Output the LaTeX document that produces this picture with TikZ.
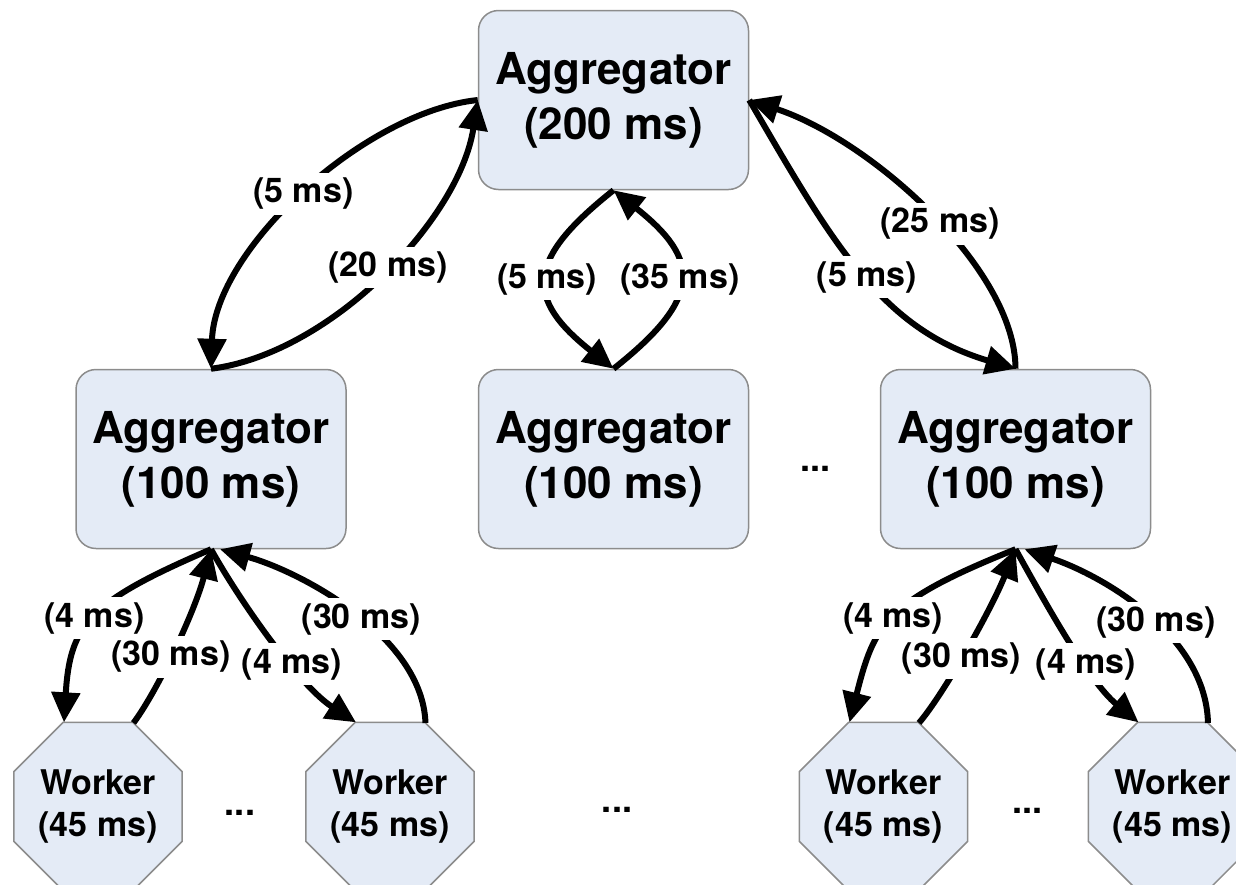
\documentclass[tikz,border=0pt]{standalone}
\usepackage{fontspec}
\setmainfont{TeX Gyre Heros}
\usetikzlibrary{arrows.meta,shapes.geometric,calc}
\definecolor{boxfill}{HTML}{E4EBF6}
\definecolor{boxline}{HTML}{8C8C8C}
\begin{document}
\begin{tikzpicture}[x=1pt,y=-1pt,
  agg/.style={draw=boxline, line width=1.5pt, fill=boxfill, rounded corners=20pt,
    minimum width=270pt, minimum height=179pt, align=center, inner sep=0pt,
    font=\fontsize{44}{55}\selectfont\bfseries},
  worker/.style={draw=boxline, line width=1.5pt, fill=boxfill, regular polygon,
    regular polygon sides=8, minimum size=173pt, inner sep=0pt, outer sep=0pt,
    align=center, font=\fontsize{34}{42}\selectfont\bfseries},
  conn/.style={line width=6pt, -{Triangle[length=30pt,width=28pt]}},
  lbl/.style={fill=white, inner sep=5pt, font=\fontsize{34}{40}\selectfont\bfseries},
  dots/.style={inner sep=0pt, font=\fontsize{36}{40}\selectfont\bfseries}]
\useasboundingbox (0,0) rectangle (1236,884);
\clip (0,0) rectangle (1236,884);

% nodes
\node[agg] (top) at (613.5,100) {Aggregator\\(200 ms)};
\node[agg] (la) at (211,459) {Aggregator\\(100 ms)};
\node[agg] (ma) at (613.5,459) {Aggregator\\(100 ms)};
\node[agg] (ra) at (1015.5,459) {Aggregator\\(100 ms)};
\node[worker] (w1) at (98,806.5) {Worker\\(45 ms)};
\node[worker] (w2) at (390,806.5) {Worker\\(45 ms)};
\node[worker] (w3) at (883.5,806.5) {Worker\\(45 ms)};
\node[worker] (w4) at (1172.5,806.5) {Worker\\(45 ms)};
\node[dots] (d1) at (815,469) {...};
\node[dots] (d2) at (240,813) {...};
\node[dots] (d3) at (617,810) {...};
\node[dots] (d4) at (1027,811) {...};

% top level
\draw[conn] (top.west) .. controls +(-113.5,12) and +(4,-120) .. (la.north)
  node[lbl,pos=0.5] {(5 ms)};
\draw[conn] (la.north) .. controls +(119,-15) and +(-18.5,120) .. (top.west)
  node[lbl,pos=0.52] {(20 ms)};
\draw[conn] (top.south) .. controls +(-88.5,70) and +(-88.5,-70) .. (ma.north)
  node[lbl,pos=0.5] {(5 ms)};
\draw[conn] (ma.north) .. controls +(88.5,-70) and +(88.5,70) .. (top.south)
  node[lbl,pos=0.5] {(35 ms)};
\draw[conn] (ra.north) .. controls +(0,-100) and +(121.5,40) .. (top.east)
  node[lbl,pos=0.46] {(25 ms)};
\draw[conn] (top.east) .. controls +(81.5,140) and +(-135.5,-40) .. (ra.north)
  node[lbl,pos=0.52] {(5 ms)};

% left group
\draw[conn] (la.south) .. controls +(-121,52) and +(6,-99) .. (w1.112.5)
  node[lbl,pos=0.5] {(4 ms)};
\draw[conn] (w1.67.5) .. controls +(24,-32) and +(-16,62) .. (la.south)
  node[lbl,pos=0.45] {(30 ms)};
\draw[conn] (la.south) .. controls +(29,52) and +(-57,-37) .. (w2.112.5)
  node[lbl,pos=0.62] {(4 ms)};
\draw[conn] (w2.67.5) .. controls +(-3,-87) and +(80,22) .. ($(la.south)+(9,0)$)
  node[lbl,pos=0.46] {(30 ms)};

% right group
\draw[conn] (ra.south) .. controls +(-130,52) and +(25,-99) .. (w3.112.5)
  node[lbl,pos=0.5] {(4 ms)};
\draw[conn] (w3.67.5) .. controls +(24,-28) and +(-25,62) .. (ra.south)
  node[lbl,pos=0.45] {(30 ms)};
\draw[conn] (ra.south) .. controls +(29,52) and +(-50,-41) .. (w4.112.5)
  node[lbl,pos=0.63] {(4 ms)};
\draw[conn] (w4.67.5) .. controls +(-2,-87) and +(80,27) .. ($(ra.south)+(9,0)$)
  node[lbl,pos=0.45] {(30 ms)};
\end{tikzpicture}
\end{document}
